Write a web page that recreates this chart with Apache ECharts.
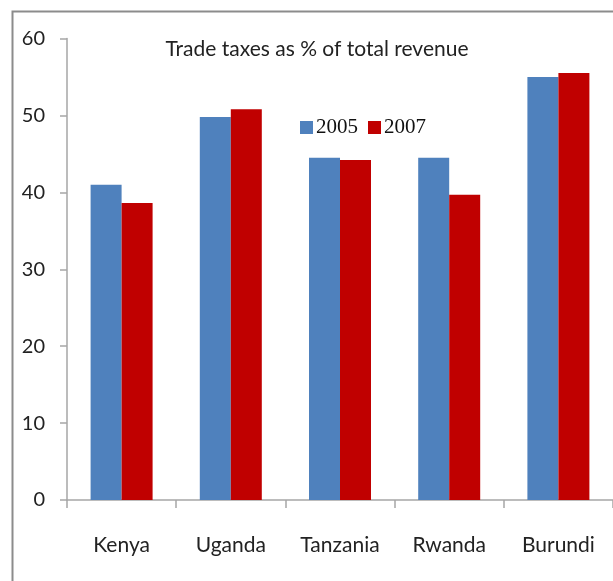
<!DOCTYPE html>
<html><head><meta charset="utf-8">
<script src="https://cdn.jsdelivr.net/npm/echarts@6/dist/echarts.min.js"></script>
<style>html,body{margin:0;padding:0;background:#fff}#c{width:613px;height:581px}</style>
</head><body><div id="c"></div>
<script>
const categories = ['Kenya', 'Uganda', 'Tanzania', 'Rwanda', 'Burundi'];
const values2005 = [41.0, 49.8, 44.5, 44.5, 55.0];
const values2007 = [38.6, 50.8, 44.2, 39.7, 55.5];
const yTicks = [0, 10, 20, 30, 40, 50, 60];
const FONT = 'Lato, sans-serif';
const chart = echarts.init(document.getElementById('c'));
chart.setOption({
  animation: false,
  graphic: [{
    type: 'rect', left: 10, top: 9,
    shape: { x: 0, y: 0, width: 700, height: 700 },
    style: { fill: 'none', stroke: '#8c8c8c', lineWidth: 2 }
  }],
  title: {
    text: 'Trade taxes as % of total revenue',
    left: 312, top: 34, textAlign: 'center',
    textStyle: { fontFamily: FONT, fontSize: 21, fontWeight: 'normal', color: '#222' }
  },
  legend: {
    left: 295, top: 112, itemWidth: 13, itemHeight: 13, itemGap: 10,
    icon: 'rect',
    textStyle: { fontFamily: '"Liberation Serif", serif', fontSize: 21, color: '#111', padding: [0, 0, 0, -2] },
    data: ['2005', '2007']
  },
  grid: { left: 67, right: -10, top: 38.5, bottom: 81, containLabel: false },
  xAxis: {
    type: 'category', data: categories,
    axisLine: { lineStyle: { color: '#a6a6a6', width: 1.5 } },
    axisTick: { show: true, length: 8, lineStyle: { color: '#a6a6a6', width: 1.5 } },
    axisLabel: { fontFamily: FONT, fontSize: 21, color: '#222', margin: 35 }
  },
  yAxis: {
    type: 'value', min: 0, max: 60, interval: 10,
    axisLine: { show: true, lineStyle: { color: '#a6a6a6', width: 1.5 } },
    axisTick: { show: true, length: 7, lineStyle: { color: '#a6a6a6', width: 1.5 } },
    splitLine: { show: false },
    axisLabel: { fontFamily: FONT, fontSize: 20, color: '#222', margin: 22,
      formatter: v => yTicks.includes(v) ? String(v) : '' }
  },
  series: [
    { name: '2005', type: 'bar', data: values2005, barWidth: 31, barGap: '0%',
      itemStyle: { color: '#4F81BD' } },
    { name: '2007', type: 'bar', data: values2007, barWidth: 31, barGap: '0%',
      itemStyle: { color: '#C00000' } }
  ]
});
</script></body></html>
